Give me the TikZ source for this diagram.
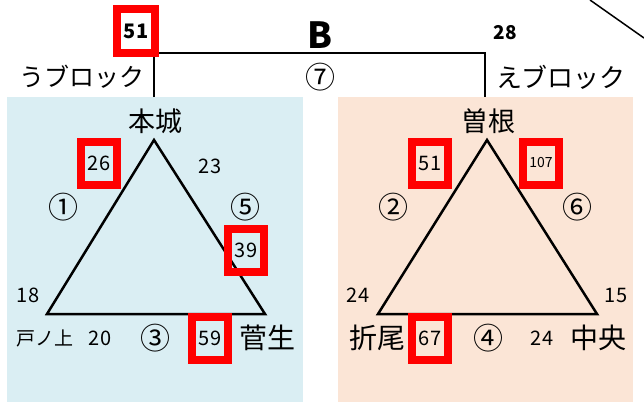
\documentclass[tikz,border=0pt]{standalone}
\usepackage{fontspec}
\setmainfont{Noto Sans CJK JP}
\usepackage{tikz}
\usetikzlibrary{positioning}
\definecolor{panelblue}{HTML}{DAEEF3}
\definecolor{panelorange}{HTML}{FBE5D6}
\tikzset{redbox/.style={draw=red, line width=8pt, minimum width=36pt, minimum height=43pt, inner sep=0pt}}
\tikzset{teamname/.style={inner sep=0pt, font=\fontsize{27}{27}\selectfont}}
\tikzset{scorenum/.style={inner sep=0pt, font=\fontsize{20}{20}\selectfont}}
\tikzset{gamenum/.style={inner sep=0pt, font=\fontsize{30}{30}\selectfont}}

\begin{document}
\begin{tikzpicture}[x=1pt, y=-1pt, line width=2.5pt]
\useasboundingbox (0,0) rectangle (644,402);
\fill[panelblue] (7,97) rectangle (303,402);
\fill[panelorange] (338,97) rectangle (633,402);

% final bracket
\coordinate (ublock) at (154,97);
\coordinate (eblock) at (485,97);
\coordinate (bartop) at (154,53);
\draw (ublock) |- (eblock |- bartop) -- (eblock);
\node[redbox, minimum width=38pt, minimum height=44pt, font=\bfseries\fontsize{20}{20}\selectfont] (winU) at (136,31) {51};
\node[inner sep=0pt, font=\bfseries\fontsize{36}{36}\selectfont] (groupB) at (320,35) {B};
\node[inner sep=0pt, font=\bfseries\fontsize{19}{19}\selectfont] (winE) at (505,33) {28};
\node[teamname, font=\fontsize{25}{25}\selectfont] (uname) at (82,77) {うブロック};
\node[teamname, font=\fontsize{26}{26}\selectfont] (ename) at (561,77) {えブロック};
\node[gamenum] (g7) at (320,77) {⑦};
\draw[line width=1.5pt] (590,0) -- (644,38);

% teams
\node[teamname] (honjo) at (155,121) {本城};
\node[teamname, font=\fontsize{19}{19}\selectfont] (tonoue) at (45,338) {戸ノ上};
\node[teamname, font=\fontsize{28}{28}\selectfont] (sugao) at (267,338) {菅生};
\node[teamname] (sone) at (488,121) {曽根};
\node[teamname, font=\fontsize{28}{28}\selectfont] (orio) at (377,338) {折尾};
\node[teamname, font=\fontsize{28}{28}\selectfont] (chuo) at (598,338) {中央};

% triangles
\coordinate (ta) at (154,140);
\coordinate (tb) at (47,314);
\coordinate (tc) at (265,314);
\draw[line join=miter] (ta) -- (tb) -- (tc) -- cycle;
\coordinate (sa) at (487,140);
\coordinate (sb) at (378,314);
\coordinate (sc) at (597,314);
\draw[line join=miter] (sa) -- (sb) -- (sc) -- cycle;

% game numbers
\foreach \n/\x/\y in {1/63/207, 5/245/207, 3/155/338, 2/393/207, 6/577/207, 4/488/338}
{
    \node[gamenum] (g\n) at (\x,\y) {\ifcase\n\or①\or②\or③\or④\or⑤\or⑥\fi};
};

% scores
\foreach \s/\x/\y/\v in {a/210/166/23, b/28/295/18, c/100/338/20, d/358/295/24, e/616/295/15, f/542/338/24}
{
    \node[scorenum] (sc\s) at (\x,\y) {\v};
};
\foreach \s/\x/\y/\v in {a/99/163/26, b/246/250/39, c/210/338/59, d/430/163/51, f/430/338/67}
{
    \node[redbox, scorenum] (win\s) at (\x,\y) {\v};
};
\node[redbox, scorenum, font=\fontsize{14}{14}\selectfont] (wine) at (541,163) {107};
\end{tikzpicture}
\end{document}
